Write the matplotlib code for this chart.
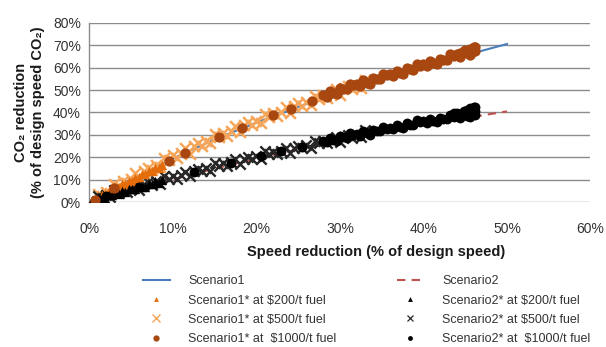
import matplotlib.pyplot as plt
from matplotlib.lines import Line2D
from matplotlib.ticker import MultipleLocator, FuncFormatter

plt.rcParams['font.family'] = ['Liberation Sans', 'DejaVu Sans']

# speed reduction (% of design speed) vs CO2 reduction (% of design speed CO2)
speed_line = [0, 5, 10, 15, 20, 25, 30, 35, 40, 45, 50]
co2_scenario1 = [0, 10.0, 19.5, 28.0, 35.5, 42.5, 49.0, 54.5, 60.0, 65.5, 70.5]
co2_scenario2 = [0, 5.2, 10.2, 15.0, 19.5, 23.5, 27.5, 31.0, 34.5, 37.5, 40.5]

# Scenario1* runs
s1_200_x = [0.3, 0.7, 1.1, 1.5, 1.9, 2.3, 2.7, 3.1, 3.5, 3.9, 4.3, 4.7, 5.1, 5.5,
            5.9, 6.3, 6.7, 7.1, 7.5, 7.9, 8.3, 8.7]
s1_200_y = [0.5, 1.6, 2.0, 3.3, 3.6, 4.9, 5.1, 6.4, 6.6, 8.0, 8.2, 9.5, 9.7, 11.0,
            11.1, 12.5, 12.6, 13.9, 14.0, 15.3, 15.4, 16.7]

s1_500_x = [1.0, 1.5, 2.0, 2.5, 3.0, 3.5, 4.0, 4.5, 5.0, 5.5, 6.0, 6.5, 7.0, 7.5,
            8.0, 8.5, 9.0, 9.5, 10.0, 10.5, 11.0, 11.5, 12.0, 12.5, 13.0, 13.5,
            14.0, 14.5, 15.0, 15.5, 16.0, 16.5, 17.0, 17.5, 18.0, 18.5, 19.0, 19.5,
            20.0, 20.5, 21.0, 21.5, 22.0, 22.5, 23.0, 23.5, 24.0, 24.5, 25.0, 25.5,
            26.0, 26.5, 27.0, 27.5, 28.0, 28.5, 29.0, 29.5, 30.0, 30.5, 31.0, 31.5,
            32.0, 32.5, 33.0]
s1_500_y = [3.7, 2.7, 4.8, 4.0, 8.3, 7.3, 9.4, 8.4, 10.6, 13.0, 10.6, 14.0, 15.5, 14.5,
            16.5, 15.7, 19.9, 18.9, 20.9, 19.8, 21.8, 24.1, 21.6, 24.9, 26.3, 25.2,
            27.1, 26.2, 30.3, 29.1, 30.9, 29.7, 31.6, 33.8, 31.2, 34.4, 35.7, 34.5,
            36.3, 35.2, 39.2, 37.9, 39.7, 38.4, 40.3, 42.4, 39.8, 42.9, 44.2, 42.9,
            44.6, 43.5, 47.4, 46.1, 47.8, 46.5, 48.3, 50.4, 47.7, 50.7, 51.8, 50.4,
            52.0, 50.8, 54.6]

s1_1000_x = [0.7, 3.0, 9.5, 11.5, 15.5, 18.3, 22.0, 24.2, 26.6,
             28.0, 28.4, 28.8, 29.2, 29.6, 30.0, 30.4, 30.8, 31.2, 31.6, 32.0, 32.4,
             32.8, 33.2, 33.6, 34.0, 34.4, 34.8, 35.2, 35.6, 36.0, 36.4, 36.8, 37.2,
             37.6, 38.0, 38.4, 38.8, 39.2, 39.6, 40.0, 40.4, 40.8, 41.2, 41.6, 42.0,
             42.4, 42.8, 43.2, 43.6, 44.0, 44.4, 44.8, 45.2, 45.6, 46.0,
             44.4, 45.0, 45.6, 45.8, 46.0, 46.2, 46.2]
s1_1000_y = [1.0, 6.2, 18.5, 21.8, 29.0, 33.0, 38.9, 41.4, 45.3,
             47.9, 47.0, 49.6, 48.8, 48.2, 50.8, 50.4, 50.3, 52.8, 52.1, 52.7, 51.7,
             54.3, 53.3, 52.7, 55.2, 54.8, 54.7, 57.2, 56.5, 57.1, 56.1, 58.7, 57.7,
             57.1, 59.6, 59.2, 59.1, 61.6, 60.9, 61.5, 60.5, 63.1, 62.1, 61.5, 64.0,
             63.6, 63.5, 66.0, 65.3, 65.9, 64.9, 67.5, 66.5, 65.8, 68.3,
             66.6, 67.8, 68.2, 67.0, 69.0, 69.2, 67.6]

# Scenario2* runs
s2_200_x = [0.3, 0.7, 1.1, 1.5, 1.9, 2.3, 2.7, 3.1, 3.5, 3.9, 4.3, 4.7, 5.1, 5.5,
            5.9, 6.3, 6.7, 7.1, 7.5, 7.9, 8.3, 8.7]
s2_200_y = [1.1, 0.8, 2.4, 2.0, 1.7, 3.4, 3.4, 4.7, 3.8, 5.0, 4.4, 6.1, 6.1, 5.8,
            7.4, 6.9, 6.6, 8.3, 8.3, 9.6, 8.7, 9.8]

s2_500_x = s1_500_x
s2_500_y = [2.8, 1.8, 3.2, 2.2, 5.5, 4.3, 5.7, 4.6, 6.2, 7.8, 5.6, 8.0, 9.0, 7.9,
            9.3, 8.3, 11.6, 10.4, 11.7, 10.6, 12.2, 13.7, 11.5, 13.9, 14.9, 13.8,
            15.1, 14.1, 17.4, 16.2, 17.4, 16.3, 17.8, 19.4, 17.1, 19.5, 20.4, 19.3,
            20.6, 19.5, 22.7, 21.4, 22.6, 21.4, 22.9, 24.4, 22.1, 24.4, 25.3, 24.1,
            25.4, 24.3, 27.5, 26.2, 27.4, 26.2, 27.7, 29.2, 26.9, 29.2, 30.0, 28.8,
            30.0, 28.9, 32.0]

s2_1000_x = [2.0, 6.0, 12.5, 17.0, 20.5, 23.0, 25.5,
             28.0, 28.4, 28.8, 29.2, 29.6, 30.0, 30.4, 30.8, 31.2, 31.6, 32.0, 32.4,
             32.8, 33.2, 33.6, 34.0, 34.4, 34.8, 35.2, 35.6, 36.0, 36.4, 36.8, 37.2,
             37.6, 38.0, 38.4, 38.8, 39.2, 39.6, 40.0, 40.4, 40.8, 41.2, 41.6, 42.0,
             42.4, 42.8, 43.2, 43.6, 44.0, 44.4, 44.8, 45.2, 45.6, 46.0,
             43.6, 44.0, 44.8, 45.2, 45.6, 45.6, 46.0, 46.2, 46.2, 46.2]
s2_1000_y = [2.6, 6.8, 13.4, 17.6, 20.5, 22.8, 24.6,
             27.4, 26.7, 28.8, 27.9, 27.3, 29.5, 29.0, 28.8, 30.9, 30.0, 30.4, 29.7,
             31.8, 30.7, 30.1, 32.3, 31.8, 31.6, 33.7, 32.8, 33.2, 32.5, 34.6, 33.5,
             32.9, 35.1, 34.6, 34.4, 36.5, 35.6, 36.0, 35.2, 37.3, 36.2, 35.6, 37.7,
             37.1, 36.9, 39.0, 38.1, 38.4, 37.6, 39.7, 38.6, 38.0, 40.1,
             39.6, 39.8, 40.6, 41.2, 41.8, 39.9, 42.4, 42.6, 40.8, 38.9]

blue = '#4a7ebb'
red = '#c0504d'
orange_dark = '#e46c0a'
orange_light = '#f5a65a'
brown = '#a8470f'

fig = plt.figure(figsize=(6.06, 3.47), dpi=100)
ax = fig.add_axes([0.1474, 0.417, 0.827, 0.5176])

ax.plot(speed_line, co2_scenario1, color=blue, lw=1.5, zorder=2)
ax.plot(speed_line, co2_scenario2, color=red, lw=1.5, dashes=(4, 3), zorder=2)

ax.scatter(s1_500_x, s1_500_y, marker='x', s=60, lw=1.8, color=orange_light, zorder=3)
ax.scatter(s1_200_x, s1_200_y, marker='^', s=45, lw=0, color=orange_dark, zorder=4)
ax.scatter(s1_1000_x, s1_1000_y, marker='o', s=55, lw=0, color=brown, zorder=5)

ax.scatter(s2_500_x, s2_500_y, marker='x', s=55, lw=1.7, color='#262626', zorder=3)
ax.scatter(s2_200_x, s2_200_y, marker='^', s=45, lw=0, color='black', zorder=4)
ax.scatter(s2_1000_x, s2_1000_y, marker='o', s=50, lw=0, color='black', zorder=5)

ax.set_xlim(0, 60)
ax.set_ylim(0, 80)
ax.xaxis.set_major_locator(MultipleLocator(10))
ax.yaxis.set_major_locator(MultipleLocator(10))
pct = FuncFormatter(lambda v, pos: f'{v:.0f}%')
ax.xaxis.set_major_formatter(pct)
ax.yaxis.set_major_formatter(pct)
ax.tick_params(axis='both', length=0, labelsize=10, labelcolor='#333333')
ax.tick_params(axis='x', pad=14)
ax.tick_params(axis='y', pad=6)

ax.grid(axis='y', color='#8c8c8c', lw=1.0)
ax.set_axisbelow(True)
for side in ['top', 'right', 'bottom']:
    ax.spines[side].set_visible(False)
ax.spines['left'].set_color('#8c8c8c')
ax.spines['left'].set_linewidth(1.0)

ax.set_xlabel('Speed reduction (% of design speed)', fontsize=10.5,
              fontweight='bold', color='#1a1a1a')
ax.xaxis.set_label_coords(0.572, -0.235)
ax.set_ylabel('CO\u2082 reduction\n(% of design speed CO\u2082)', fontsize=10.5,
              fontweight='bold', color='#1a1a1a', linespacing=1.25)
ax.yaxis.set_label_coords(-0.088, 0.5)

# legend: two columns placed under the plot
left_handles = [
    Line2D([], [], color=blue, lw=1.5),
    Line2D([], [], ls='none', marker='^', ms=3.5, mew=0, color=orange_dark),
    Line2D([], [], ls='none', marker='x', ms=5.5, mew=1.0, color=orange_light),
    Line2D([], [], ls='none', marker='o', ms=4.5, mew=0, color=brown),
]
left_labels = ['Scenario1', 'Scenario1* at $200/t fuel',
               'Scenario1* at $500/t fuel', 'Scenario1* at  $1000/t fuel']
right_handles = [
    Line2D([], [], color=red, lw=1.5, dashes=(4, 3)),
    Line2D([], [], ls='none', marker='^', ms=3.5, mew=0, color='black'),
    Line2D([], [], ls='none', marker='x', ms=5, mew=0.9, color='#2b2b2b'),
    Line2D([], [], ls='none', marker='o', ms=3.5, mew=0, color='black'),
]
right_labels = ['Scenario2', 'Scenario2* at $200/t fuel',
                'Scenario2* at $500/t fuel', 'Scenario2* at  $1000/t fuel']

legend_style = dict(loc='upper left', frameon=False, fontsize=9, borderpad=0,
                    borderaxespad=0, handlelength=2.15, handletextpad=1.45,
                    labelspacing=0.58, labelcolor='#333333')
fig.legend(left_handles, left_labels, bbox_to_anchor=(0.236, 0.2066), **legend_style)
fig.legend(right_handles, right_labels, bbox_to_anchor=(0.655, 0.2066), **legend_style)

fig.savefig('out.png', dpi=100)
